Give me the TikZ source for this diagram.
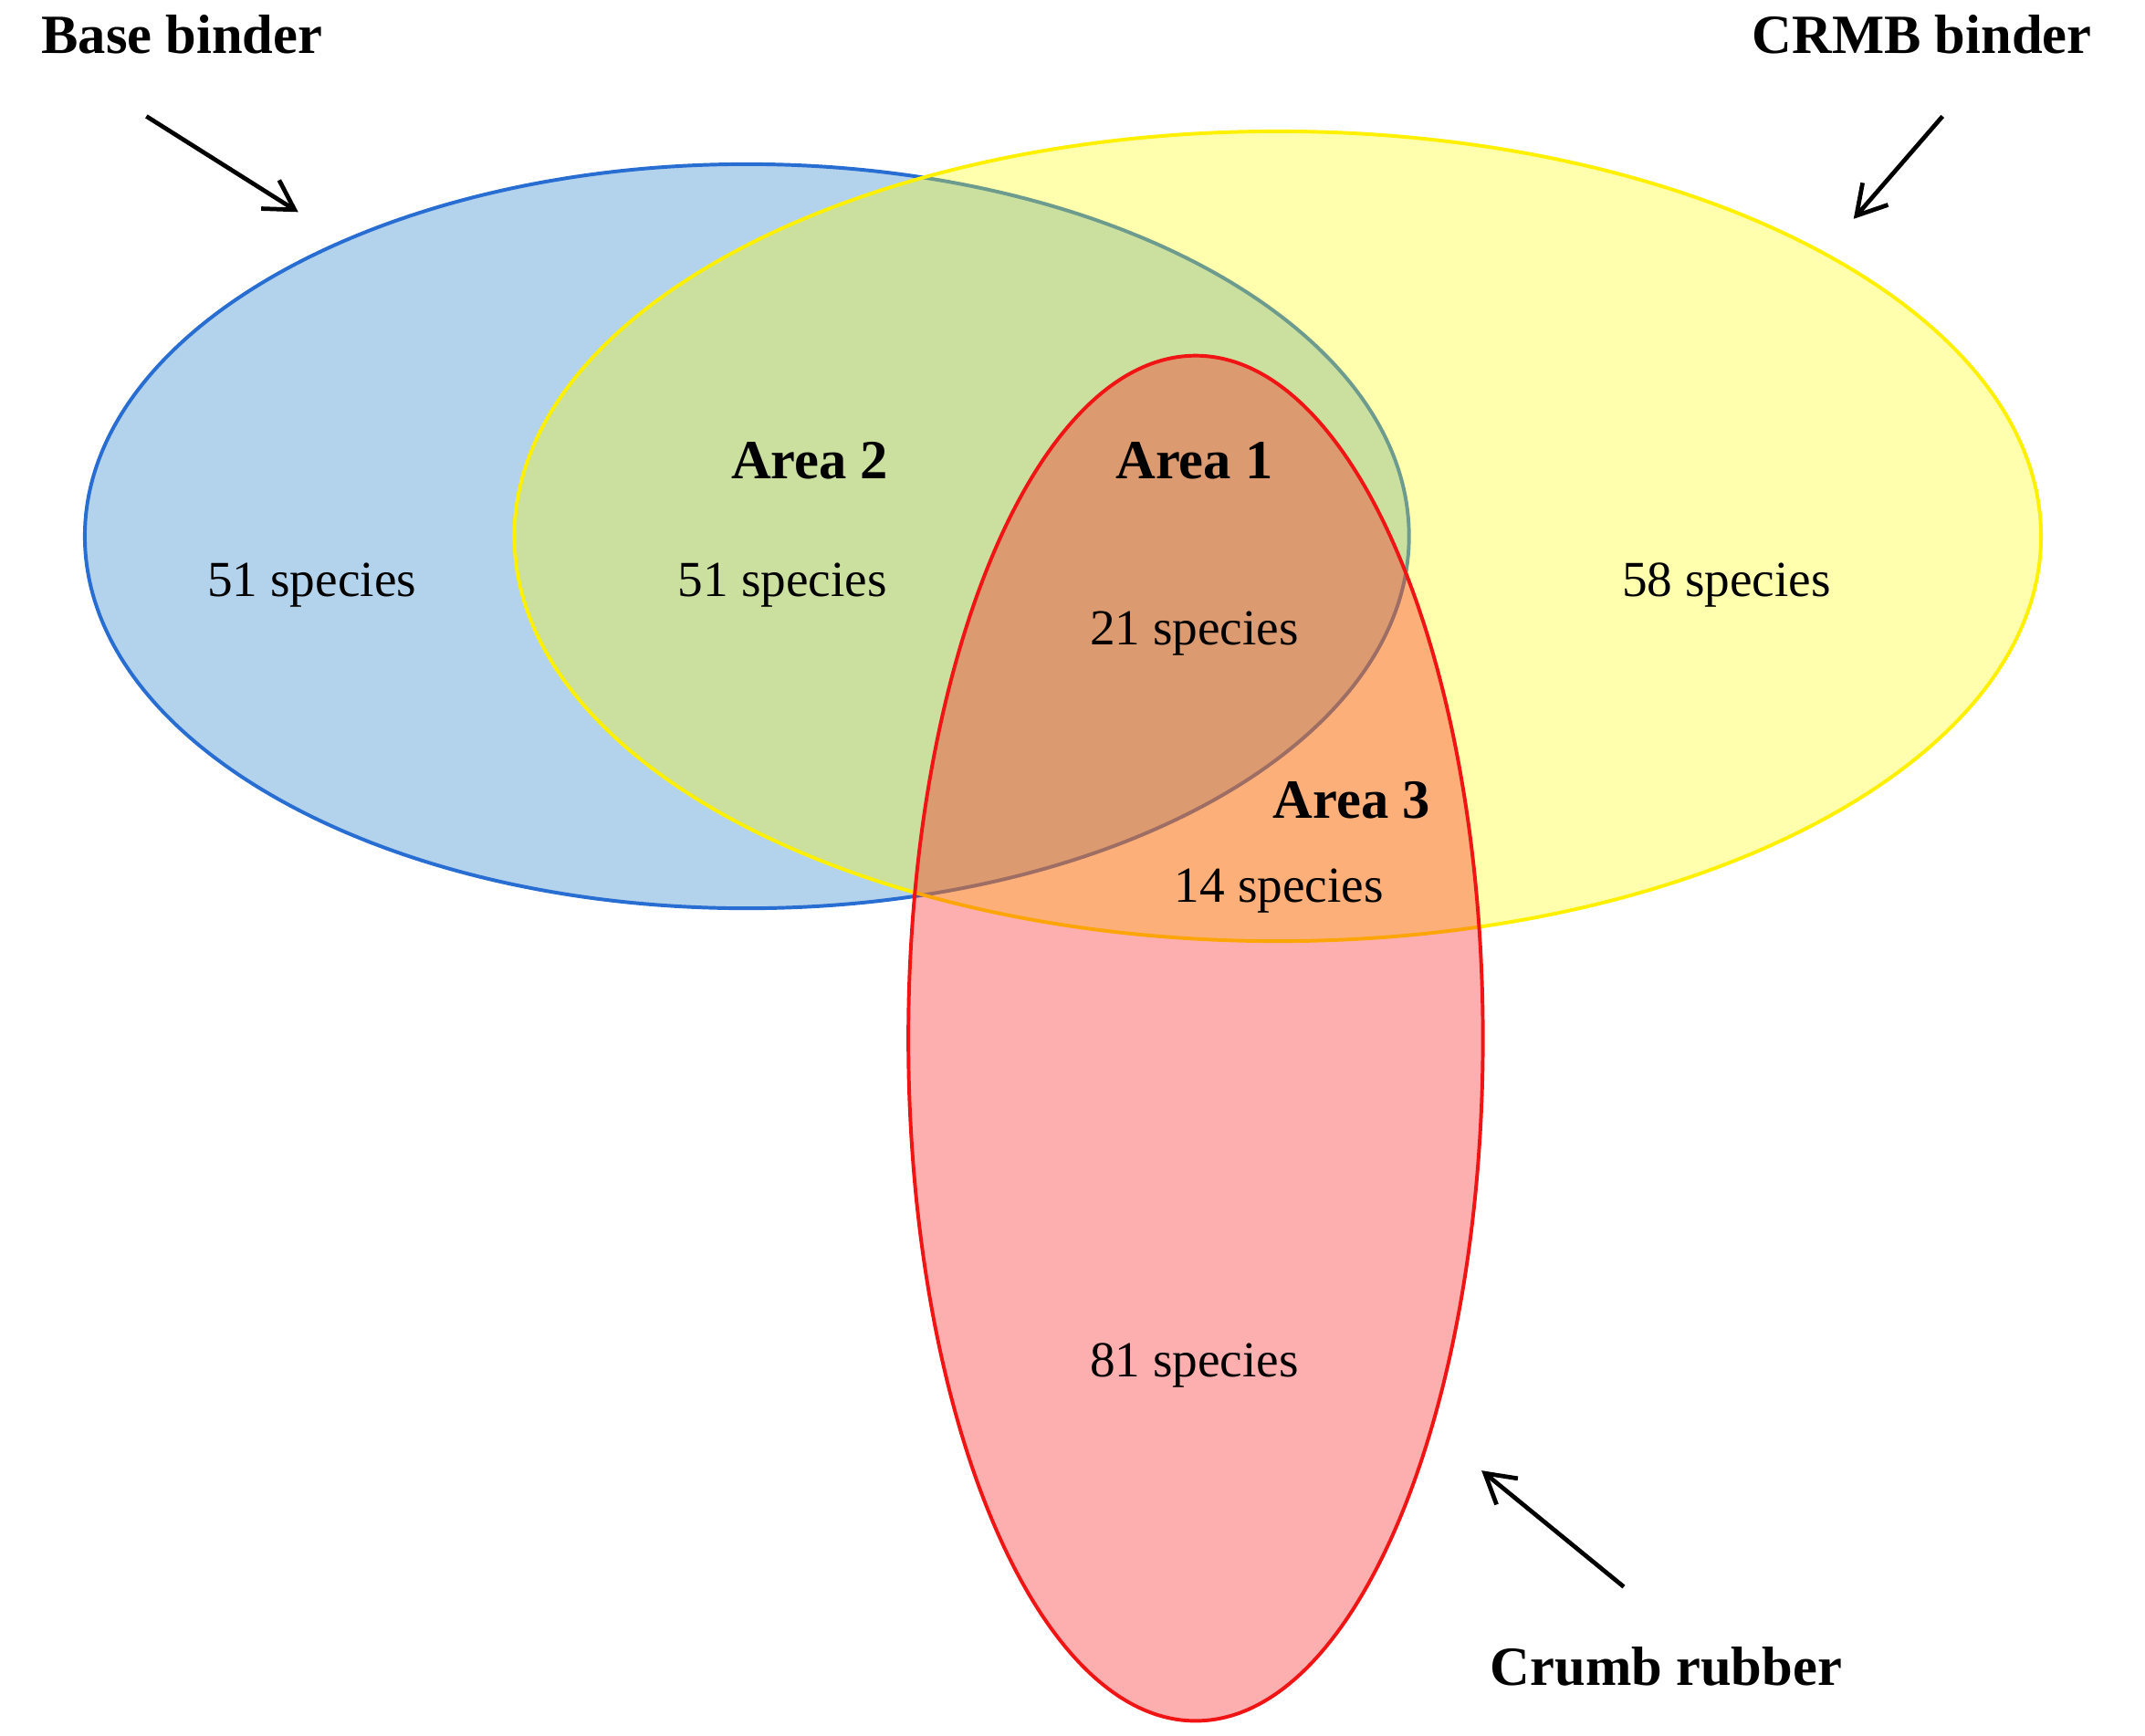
\documentclass[tikz,border=0pt]{standalone}
\usepackage{fontspec}
\setmainfont{Liberation Serif}
\usetikzlibrary{arrows.meta}
\definecolor{bfill}{RGB}{179,210,235}
\definecolor{bline}{RGB}{40,110,210}
\definecolor{yfill}{RGB}{255,255,0}
\definecolor{yline}{RGB}{255,240,0}
\definecolor{rfill}{RGB}{249,28,28}
\definecolor{rline}{RGB}{240,20,20}
\begin{document}
\begin{tikzpicture}[x=0.02cm,y=-0.02cm,
  lbl/.style={font=\fontsize{21}{25}\selectfont},
  ttl/.style={font=\fontsize{23}{27}\selectfont\bfseries},
  arr/.style={-{Straight Barb[length=12pt,width=14pt]},line width=1.8pt}]
\useasboundingbox (0,0) rectangle (1568,1269);
\fill[bfill] (546,392) ellipse [x radius=484,y radius=272];
\draw[bline,line width=1.5pt] (546,392) ellipse [x radius=484,y radius=272];
\fill[yfill,opacity=0.32] (934,392) ellipse [x radius=558,y radius=296];
\draw[yline,line width=1.5pt] (934,392) ellipse [x radius=558,y radius=296];
\fill[rfill,opacity=0.353] (874,759) ellipse [x radius=210,y radius=499];
\draw[rline,line width=1.5pt] (874,759) ellipse [x radius=210,y radius=499];
\node[ttl] (bb) at (133,25) {Base binder};
\node[ttl] (cb) at (1405,25) {CRMB binder};
\node[ttl] (cr) at (1218,1218) {Crumb rubber};
\node[ttl] (a2) at (592,337) {Area 2};
\node[ttl] (a1) at (873,337) {Area 1};
\node[ttl] (a3) at (988,585) {Area 3};
\node[lbl] (s1) at (228,428) {51 species};
\node[lbl] (s2) at (572,428) {51 species};
\node[lbl] (s3) at (873,463) {21 species};
\node[lbl] (s4) at (1262,428) {58 species};
\node[lbl] (s5) at (935,651) {14 species};
\node[lbl] (s6) at (873,998) {81 species};
\coordinate (b0) at (107,85); \coordinate (b1) at (218,155);
\coordinate (c0) at (1420,85); \coordinate (c1) at (1355,160);
\coordinate (r0) at (1187,1160); \coordinate (r1) at (1083,1075);
\draw[arr] (b0) -- (b1);
\draw[arr] (c0) -- (c1);
\draw[arr] (r0) -- (r1);
\end{tikzpicture}
\end{document}
